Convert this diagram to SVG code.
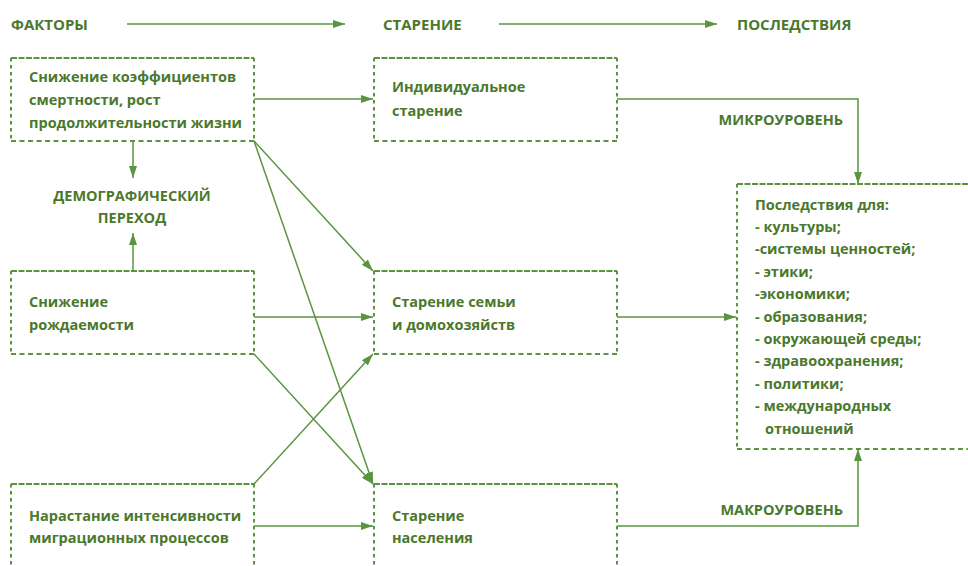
<svg xmlns="http://www.w3.org/2000/svg" width="968" height="566" viewBox="0 0 968 566">
<style>
text{font-family:"Open Sans","Liberation Sans",sans-serif;font-weight:700;fill:#4a782c;font-size:14.5px}
.hd{font-size:15px}
.ln{stroke:#5a9441;stroke-width:1.5;fill:none}
.top{stroke:#5a9441;stroke-width:2;stroke-dasharray:6 1.5;fill:none}
.bot{stroke:#5a9441;stroke-width:2;stroke-dasharray:5 3.5;fill:none}
.side{stroke:#5a9441;stroke-width:2;stroke-dasharray:3.5 3.5;fill:none}
</style>
<defs>
<marker id="ah" viewBox="0 0 12 8" refX="12" refY="4" markerWidth="12" markerHeight="8" markerUnits="userSpaceOnUse" orient="auto">
<path d="M0,0 L12,4 L0,8 Z" fill="#5a9441"/>
</marker>
</defs>
<g id="headers">
<text class="hd" x="11" y="30">ФАКТОРЫ</text>
<text class="hd" x="383" y="30">СТАРЕНИЕ</text>
<text class="hd" x="737" y="30">ПОСЛЕДСТВИЯ</text>
</g>
<g id="n-mortality">
<path class="top" d="M11,58 H254"/><path class="bot" d="M11,141 H254"/>
<path class="side" d="M11,58 V141 M254,58 V141"/>
<text x="29" y="82">Снижение коэффициентов</text>
<text x="29" y="105">смертности, рост</text>
<text x="29" y="128">продолжительности жизни</text>
</g>
<g id="n-individual">
<path class="top" d="M374,58 H617"/><path class="bot" d="M374,141 H617"/>
<path class="side" d="M374,58 V141 M617,58 V141"/>
<text x="392" y="92">Индивидуальное</text>
<text x="392" y="116">старение</text>
</g>
<g id="n-transition">
<text x="132" y="201" text-anchor="middle">ДЕМОГРАФИЧЕСКИЙ</text>
<text x="132" y="223" text-anchor="middle">ПЕРЕХОД</text>
</g>
<g id="n-fertility">
<path class="top" d="M11,271 H254"/><path class="bot" d="M11,354 H254"/>
<path class="side" d="M11,271 V354 M254,271 V354"/>
<text x="29" y="307">Снижение</text>
<text x="29" y="330">рождаемости</text>
</g>
<g id="n-family">
<path class="top" d="M374,271 H617"/><path class="bot" d="M374,354 H617"/>
<path class="side" d="M374,271 V354 M617,271 V354"/>
<text x="392" y="307">Старение семьи</text>
<text x="392" y="330">и домохозяйств</text>
</g>
<g id="n-consequences">
<path class="top" d="M737,184 H970"/><path class="bot" d="M737,449 H970"/>
<path class="side" d="M737,184 V449"/>
<text x="755" y="210">Последствия для:</text>
<text x="755" y="232">- культуры;</text>
<text x="755" y="254">-системы ценностей;</text>
<text x="755" y="277">- этики;</text>
<text x="755" y="299">-экономики;</text>
<text x="755" y="322">- образования;</text>
<text x="755" y="344">- окружающей среды;</text>
<text x="755" y="366">- здравоохранения;</text>
<text x="755" y="389">- политики;</text>
<text x="755" y="411">- международных</text>
<text x="765" y="434">отношений</text>
</g>
<g id="n-migration">
<path class="top" d="M11,484 H254"/>
<path class="side" d="M11,484 V570 M254,484 V570"/>
<text x="29" y="521">Нарастание интенсивности</text>
<text x="29" y="543">миграционных процессов</text>
</g>
<g id="n-population">
<path class="top" d="M374,484 H617"/>
<path class="side" d="M374,484 V570 M617,484 V570"/>
<text x="392" y="521">Старение</text>
<text x="392" y="543">населения</text>
</g>
<g id="connectors">
<path class="ln" d="M127,24 H345" marker-end="url(#ah)"/>
<path class="ln" d="M499,24 H717" marker-end="url(#ah)"/>
<path class="ln" d="M254,99 H373" marker-end="url(#ah)"/>
<path class="ln" d="M133,141 V178" marker-end="url(#ah)"/>
<path class="ln" d="M133,271 V233" marker-end="url(#ah)"/>
<path class="ln" d="M254,317 H373" marker-end="url(#ah)"/>
<path class="ln" d="M617,317 H736" marker-end="url(#ah)"/>
<path class="ln" d="M254,526 H373" marker-end="url(#ah)"/>
<path class="ln" d="M254,141 L373,271" marker-end="url(#ah)"/>
<path class="ln" d="M254,141 L373,484" marker-end="url(#ah)"/>
<path class="ln" d="M254,354 L373,484" marker-end="url(#ah)"/>
<path class="ln" d="M254,484 L373,354" marker-end="url(#ah)"/>
<path class="ln" d="M617,99 H858 V184" marker-end="url(#ah)"/>
<path class="ln" d="M617,526 H858 V449" marker-end="url(#ah)"/>
<text x="843" y="125" text-anchor="end">МИКРОУРОВЕНЬ</text>
<text x="843" y="515" text-anchor="end">МАКРОУРОВЕНЬ</text>
</g>
</svg>
